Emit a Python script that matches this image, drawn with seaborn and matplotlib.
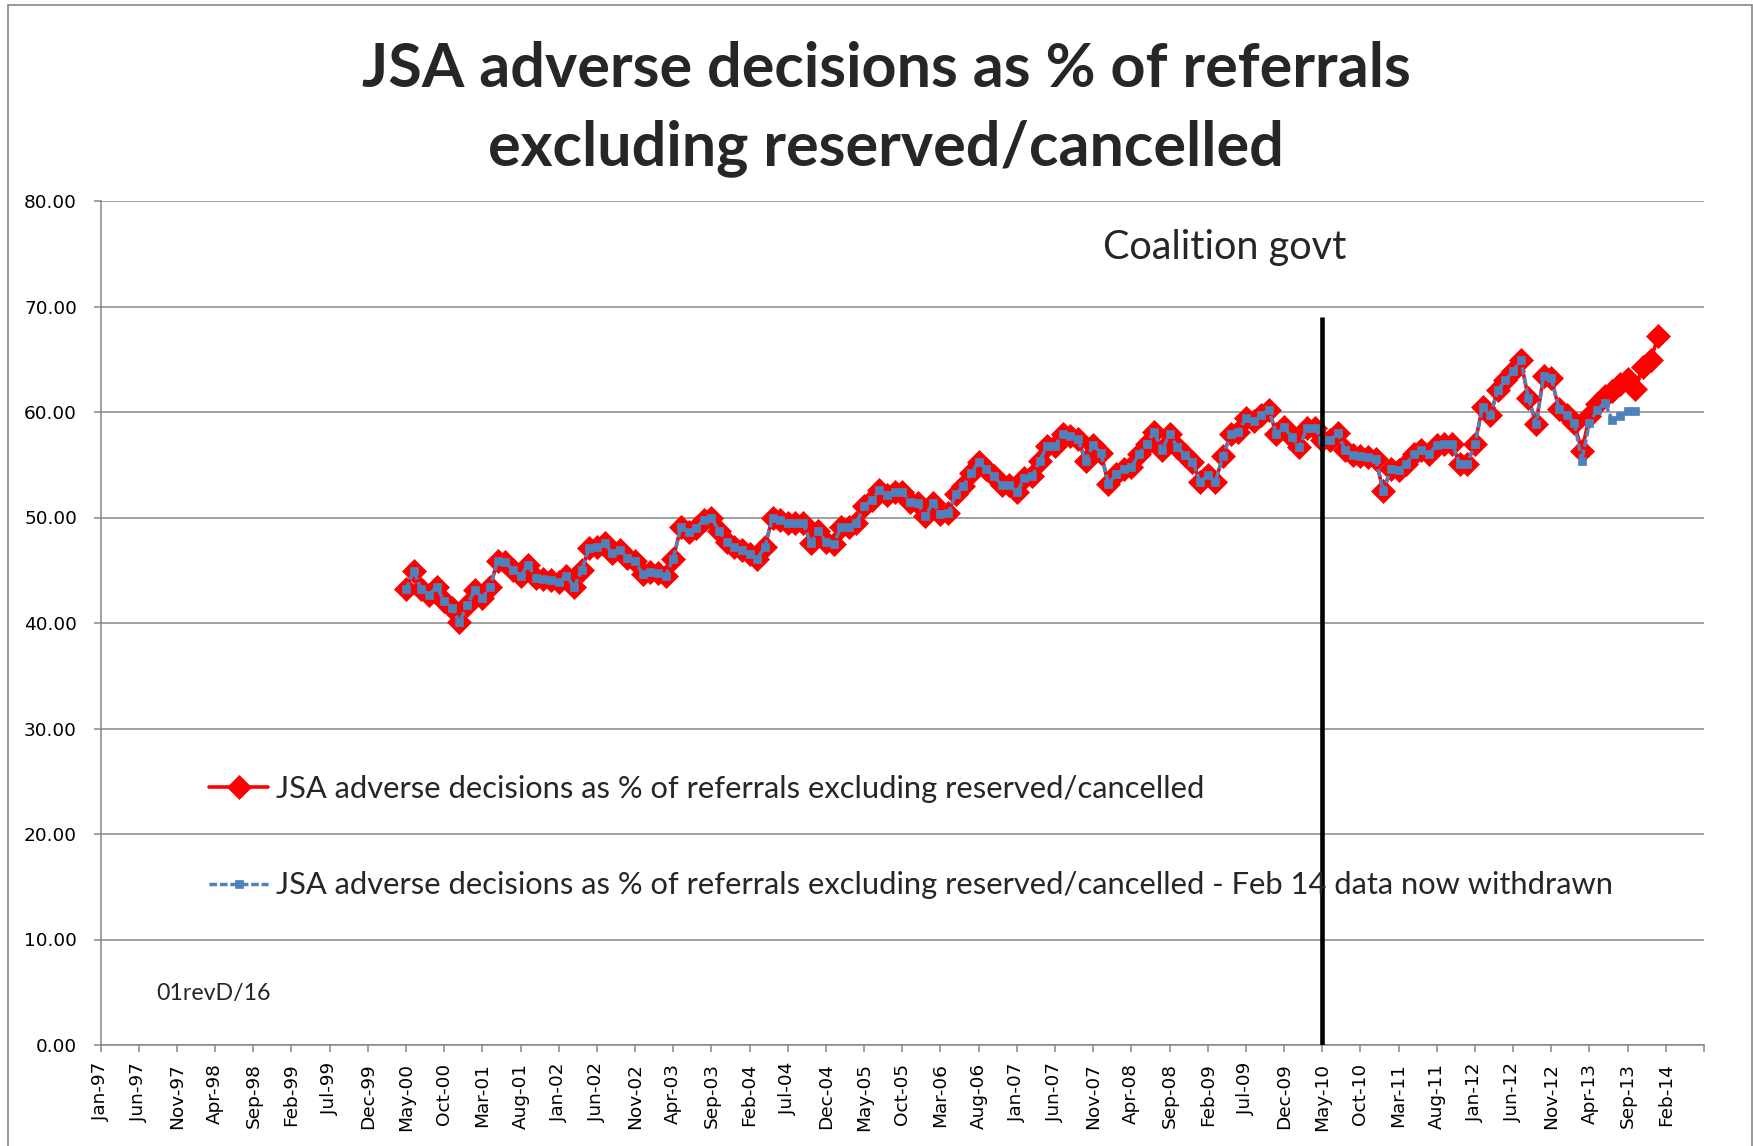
import numpy as np
import pandas as pd
import matplotlib
matplotlib.use("Agg")
import matplotlib.pyplot as plt
import seaborn as sns
from matplotlib.patches import Rectangle

sns.set_theme(style="white")
plt.rcParams['font.family'] = ['Lato', 'DejaVu Sans']

# ---------------- data ----------------
axis_start = "1997-01"
axis_end = "2014-07"
red_start = "2000-05"
blue_start = "2000-05"
coalition_month = "2010-05"

# monthly values, May-00 onwards (blue: earlier data, ends Oct-13)
blue_values = [
    43.2, 44.9, 43.2, 42.7, 43.4, 42.1, 41.4, 40.1, 41.7, 43.1, 42.4, 43.4,
    45.9, 45.8, 45.0, 44.5, 45.5, 44.3, 44.2, 44.1, 43.9, 44.5, 43.4, 45.0,
    47.1, 47.2, 47.6, 46.6, 46.9, 46.2, 45.9, 44.6, 44.8, 44.7, 44.5, 46.1,
    49.1, 48.6, 49.0, 49.8, 50.0, 48.7, 47.7, 47.2, 46.9, 46.5, 46.1, 47.2,
    50.0, 49.8, 49.5, 49.5, 49.5, 47.6, 48.7, 47.7, 47.5, 49.1, 49.1, 49.5,
    51.1, 51.7, 52.6, 52.1, 52.4, 52.4, 51.5, 51.4, 50.1, 51.4, 50.3, 50.4,
    52.2, 53.0, 54.2, 55.3, 54.6, 53.9, 53.1, 53.1, 52.4, 53.7, 53.9, 55.4,
    56.8, 56.8, 57.9, 57.7, 57.4, 55.4, 56.9, 56.1, 53.2, 54.1, 54.6, 54.8,
    56.0, 57.0, 58.1, 56.4, 57.9, 56.7, 55.9, 55.3, 53.4, 54.0, 53.4, 55.8,
    57.9, 58.1, 59.4, 59.1, 59.7, 60.2, 57.9, 58.6, 57.6, 56.7, 58.5, 58.5,
    57.3, 57.3, 58.0, 56.4, 55.9, 55.8, 55.7, 55.5, 52.5, 54.6, 54.5, 55.1,
    56.0, 56.4, 56.0, 56.9, 57.0, 57.0, 55.1, 55.1, 57.0, 60.5, 59.7, 62.1,
    63.0, 63.9, 64.9, 61.3, 58.9, 63.4, 63.2, 60.3, 59.7, 59.0, 55.4, 59.0,
    60.2, 60.9, 59.2, 59.6, 60.1, 60.1,
]
# latest data: same as above up to Feb-13, revised thereafter, ends Jan-14
red_values = blue_values[:154] + [
    56.3, 59.6, 60.8, 61.5, 62.0, 62.7, 63.1, 62.2, 64.3, 64.9, 67.2,
]
y_ticks = [0, 10, 20, 30, 40, 50, 60, 70, 80]

red_label = "JSA adverse decisions as % of referrals excluding reserved/cancelled"
blue_label = ("JSA adverse decisions as % of referrals excluding "
              "reserved/cancelled - Feb 14 data now withdrawn")
title = "JSA adverse decisions as % of referrals\nexcluding reserved/cancelled"

# ---------------- helpers ----------------
p0 = pd.Period(axis_start, "M")
def month_index(start, n):
    s = pd.Period(start, "M")
    return [(s + i - p0).n for i in range(n)]

red_df = pd.DataFrame({"m": month_index(red_start, len(red_values)), "v": red_values})
blue_df = pd.DataFrame({"m": month_index(blue_start, len(blue_values)), "v": blue_values})
n_axis = (pd.Period(axis_end, "M") - p0).n
tick_pos = list(range(0, n_axis + 1, 5))
tick_lab = [(p0 + t).strftime("%b-%y") for t in tick_pos]
tick_lab[-1] = ""

# ---------------- figure ----------------
W, H = 1753, 1146
fig = plt.figure(figsize=(W / 100, H / 100), dpi=100)
fig.patch.set_facecolor("white")
ax = fig.add_axes([100.6 / W, 1 - 1045 / H, (1704 - 100.6) / W, (1045 - 201) / H])

grey = "#878787"
sns.lineplot(data=red_df, x="m", y="v", ax=ax, color="#FF0000", lw=2.6,
             marker="D", markersize=12, markeredgecolor="#FF0000",
             markeredgewidth=0.5, label=red_label, zorder=3)
sns.lineplot(data=blue_df, x="m", y="v", ax=ax, color="#4F81BD", lw=2.5,
             linestyle=(0, (2.2, 0.8)), marker="s", markersize=5.5,
             markeredgecolor="#4F81BD", markeredgewidth=0.5,
             label=blue_label, zorder=4)

coal = (pd.Period(coalition_month, "M") - p0).n
ax.vlines(coal, 0, 69, color="black", lw=3.3, zorder=5)

ax.set_xlim(0, n_axis)
ax.set_ylim(0, 80)
ax.set_yticks(y_ticks)
ax.set_yticklabels([f"{v:.2f}" for v in y_ticks], family="DejaVu Sans", fontsize=13.3)
ax.set_xticks(tick_pos)
ax.set_xticklabels(tick_lab, rotation=90, family="DejaVu Sans", fontsize=13.3)
ax.set_xlabel("")
ax.set_ylabel("")
ax.yaxis.grid(True, color=grey, lw=1.1)
ax.xaxis.grid(False)
for s in ["top", "right"]:
    ax.spines[s].set_visible(False)
for s in ["left", "bottom"]:
    ax.spines[s].set_color(grey)
    ax.spines[s].set_linewidth(1.1)
ax.tick_params(axis="both", direction="out", length=5, width=1.1, color=grey,
               labelcolor="black", left=True, bottom=True)
ax.tick_params(axis="y", pad=12)
ax.tick_params(axis="x", pad=8)

ax.text(147.2, 75.6, "Coalition govt", fontsize=28.5, ha="center", va="center")
ax.text(7.3, 4.9, "01revD/16", fontsize=16.7, ha="left", va="center")

leg = ax.legend(loc="upper left", bbox_to_anchor=(209 / W, 1 - 775 / H),
                bbox_transform=fig.transFigure, frameon=False, fontsize=22.2,
                handlelength=1.92, handletextpad=0.26, labelspacing=2.22,
                borderpad=0, borderaxespad=0)

fig.text(886 / W, 1 - 109 / H, title, fontsize=44, fontweight="bold",
         ha="center", va="center", linespacing=1.47)

fig.add_artist(Rectangle((8 / W, -0.01), 1 - 9 / W, 1.01 - 5 / H,
                         transform=fig.transFigure, fill=False,
                         edgecolor=grey, lw=1.2))

fig.savefig("out.png", dpi=100, facecolor="white")
